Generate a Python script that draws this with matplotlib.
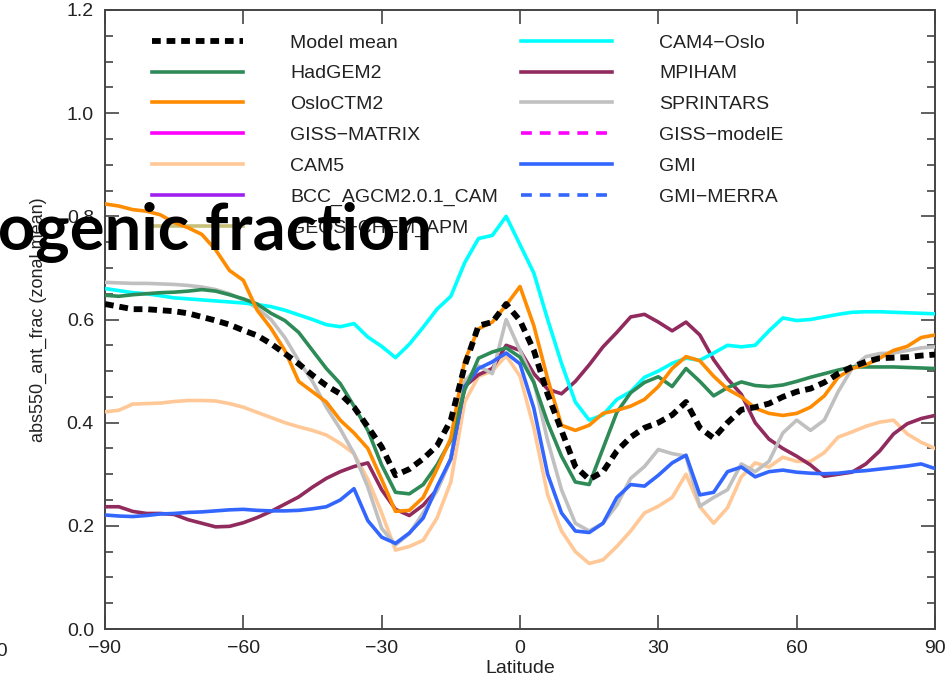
import numpy as np
import matplotlib
matplotlib.use('Agg')
import matplotlib.pyplot as plt

plt.rcParams['font.family'] = ['Liberation Sans', 'DejaVu Sans']

# latitude grid (deg)
lat = [-90, -87, -84, -81, -78, -75, -72, -69, -66, -63,
       -60, -57, -54, -51, -48, -45, -42, -39, -36, -33,
       -30, -27, -24, -21, -18, -15, -12, -9, -6, -3,
       0, 3, 6, 9, 12, 15, 18, 21, 24, 27,
       30, 33, 36, 39, 42, 45, 48, 51, 54, 57,
       60, 63, 66, 69, 72, 75, 78, 81, 84, 87,
       90]

# zonal mean absorption fraction
model_mean = [.630, .625, .620, .620, .618, .616, .612, .605, .598, .590,
              .579, .569, .553, .534, .514, .492, .472, .456, .430, .392,
              .353, .298, .310, .330, .355, .405, .510, .588, .595, .630,
              .598, .540, .455, .385, .315, .290, .305, .345, .372, .390,
              .400, .415, .440, .390, .370, .400, .425, .430, .437, .450,
              .460, .466, .478, .495, .508, .518, .525, .526, .527, .530,
              .532]
hadgem2 = [.647, .645, .648, .650, .652, .653, .655, .658, .655, .648,
           .640, .630, .612, .598, .575, .540, .505, .476, .432, .385,
           .318, .265, .262, .280, .318, .366, .463, .525, .537, .545,
           .527, .478, .400, .335, .285, .280, .350, .420, .458, .478,
           .489, .470, .505, .480, .452, .468, .479, .472, .470, .473,
           .480, .488, .495, .502, .508, .508, .508, .508, .507, .506,
           .505]
oslo_ctm2 = [.824, .820, .813, .810, .803, .788, .778, .765, .735, .695,
             .676, .618, .583, .540, .480, .460, .440, .405, .380, .350,
             .290, .228, .230, .255, .310, .370, .520, .582, .595, .628,
             .664, .588, .485, .395, .385, .395, .418, .424, .432, .445,
             .470, .505, .528, .520, .490, .465, .450, .428, .418, .414,
             .418, .430, .452, .488, .505, .512, .525, .540, .548, .565,
             .570]
cam4_oslo = [.660, .656, .652, .650, .646, .642, .640, .638, .636, .634,
             .632, .629, .625, .618, .609, .600, .590, .586, .592, .566,
             .548, .526, .552, .585, .620, .645, .710, .757, .763, .800,
             .745, .690, .600, .515, .440, .405, .415, .445, .460, .488,
             .500, .515, .525, .521, .535, .550, .547, .550, .578, .603,
             .598, .600, .605, .610, .614, .615, .615, .614, .613, .612,
             .611]
mpiham = [.237, .237, .228, .224, .224, .222, .212, .205, .198, .199,
          .206, .216, .228, .242, .256, .275, .292, .305, .315, .322,
          .270, .232, .220, .240, .270, .330, .470, .493, .505, .550,
          .540, .495, .465, .456, .480, .512, .547, .575, .605, .610,
          .595, .578, .595, .570, .522, .485, .455, .400, .368, .350,
          .335, .318, .296, .300, .304, .320, .345, .378, .398, .408,
          .414]
sprintars = [.672, .671, .670, .670, .669, .668, .666, .663, .658, .650,
             .638, .622, .600, .565, .520, .480, .430, .388, .340, .275,
             .195, .163, .185, .225, .268, .330, .480, .510, .495, .600,
             .540, .480, .365, .270, .205, .190, .205, .240, .292, .315,
             .348, .340, .335, .238, .255, .270, .320, .305, .325, .380,
             .405, .385, .405, .460, .505, .528, .534, .535, .540, .545,
             .547]
cam5 = [.421, .424, .436, .437, .438, .441, .443, .443, .442, .437,
        .430, .420, .410, .400, .392, .385, .376, .360, .340, .290,
        .225, .153, .160, .172, .215, .285, .440, .490, .500, .530,
        .490, .390, .260, .190, .150, .127, .134, .160, .190, .225,
        .238, .255, .300, .237, .205, .235, .295, .322, .314, .333,
        .325, .325, .342, .372, .382, .393, .401, .405, .378, .362,
        .350]
gmi = [.221, .219, .218, .220, .223, .224, .226, .227, .229, .231,
       .232, .230, .229, .229, .230, .233, .237, .250, .272, .210,
       .178, .166, .186, .215, .276, .330, .470, .505, .518, .535,
       .514, .428, .300, .225, .190, .187, .205, .255, .280, .277,
       .298, .322, .337, .260, .265, .305, .314, .295, .305, .308,
       .304, .302, .301, .302, .305, .307, .310, .313, .316, .320,
       .311]

# (label, values, colour, linestyle, zorder) -- None means no data in this panel
models = [
    ('Model mean', model_mean, 'black', 'mean', 10),
    ('HadGEM2', hadgem2, '#2e8b57', '-', 7),
    ('OsloCTM2', oslo_ctm2, '#ff8c00', '-', 8),
    ('GISS\u2212MATRIX', None, '#ff00ff', '-', 2),
    ('CAM5', cam5, '#ffc896', '-', 3),
    ('BCC_AGCM2.0.1_CAM', None, '#a020f0', '-', 2),
    ('GEOS\u2212CHEM_APM', None, '#c8c07a', '-', 2),
    ('CAM4\u2212Oslo', cam4_oslo, '#00ffff', '-', 5),
    ('MPIHAM', mpiham, '#912b5e', '-', 4),
    ('SPRINTARS', sprintars, '#c0c0c0', '-', 4),
    ('GISS\u2212modelE', None, '#ff00ff', 'dash', 2),
    ('GMI', gmi, '#3366ff', '-', 6),
    ('GMI\u2212MERRA', None, '#3366ff', 'dash', 2),
]

fig = plt.figure(figsize=(9.48, 6.86), dpi=100)
ax = fig.add_axes([105 / 948, 57 / 686, 830 / 948, 619 / 686])

handles = []
for name, vals, col, style, z in models:
    x = lat if vals is not None else []
    y = vals if vals is not None else []
    if style == 'mean':
        ln, = ax.plot(x, y, color=col, lw=4.2, dashes=(1.5, 1.0), zorder=z, label=name)
    elif style == 'dash':
        ln, = ax.plot(x, y, color=col, lw=2.6, dashes=(3, 2.2), zorder=z, label=name)
    else:
        ln, = ax.plot(x, y, color=col, lw=2.6, zorder=z, label=name)
    handles.append(ln)

ax.set_xlim(-90, 90)
ax.set_ylim(0, 1.2)
ax.set_xticks([-90, -60, -30, 0, 30, 60, 90])
ax.set_yticks([0.0, 0.2, 0.4, 0.6, 0.8, 1.0, 1.2])
ax.set_yticks(np.arange(0, 1.2, 0.05), minor=True)
ax.set_yticklabels(['0.0', '0.2', '0.4', '0.6', '0.8', '1.0', '1.2'])
ax.tick_params(axis='both', which='both', direction='in', top=True, right=True,
               colors='#444444', labelcolor='#222222', labelsize=14, width=1.2)
ax.tick_params(axis='both', which='major', length=10, pad=8)
ax.tick_params(axis='y', which='minor', length=5.5)
for s in ax.spines.values():
    s.set_color('#444444')
    s.set_linewidth(1.4)

ax.set_xlabel('Latitude', fontsize=14, color='#222222', labelpad=2)
ax.set_ylabel('abs550_ant_frac (zonal mean)', fontsize=13, color='#222222', labelpad=14)

ax.legend(handles=handles, ncol=2, frameon=False, fontsize=14,
          loc='upper left', bbox_to_anchor=(152 / 948, 1 - 34 / 686),
          bbox_transform=fig.transFigure, borderaxespad=0, borderpad=0,
          handlelength=4.68, handletextpad=2.42, labelspacing=0.68,
          columnspacing=1.18, labelcolor='#222222')

# leftover tick label of the neighbouring panel
fig.text(8 / 948, 1 - 652 / 686, '90', ha='right', va='center', fontsize=14, color='#222222')

# overlaid slide title, partly off the left edge
fig.text(432 / 948, 1 - 250 / 686, 'Anthropogenic fraction', ha='right', va='baseline',
         fontsize=47, fontweight='bold', family=['Lato', 'DejaVu Sans'], color='black', zorder=20)

fig.savefig('out.png', dpi=100)
